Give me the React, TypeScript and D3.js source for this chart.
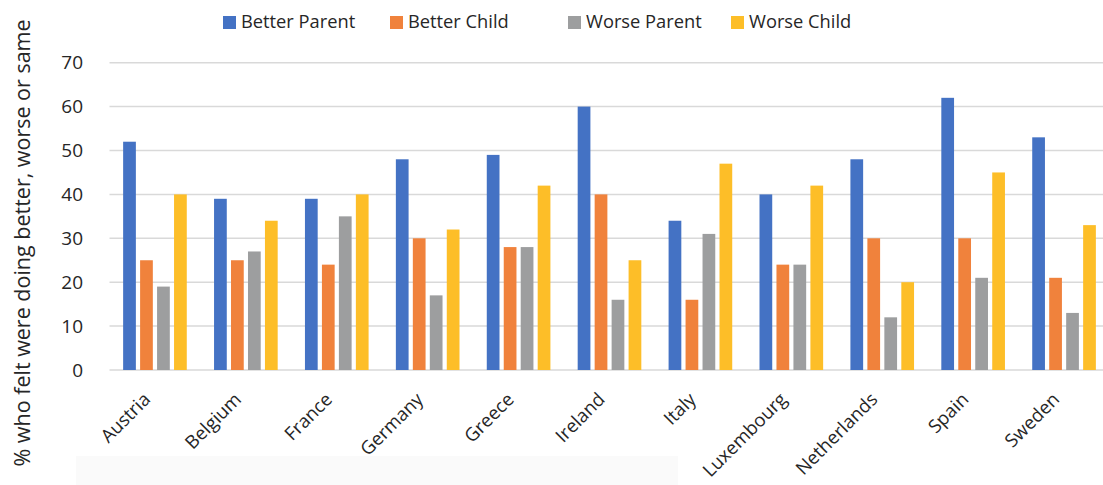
import React from "react";
import * as d3 from "d3";

const categories = ["Austria", "Belgium", "France", "Germany", "Greece", "Ireland", "Italy", "Luxembourg", "Netherlands", "Spain", "Sweden"];
const seriesNames = ["Better Parent", "Better Child", "Worse Parent", "Worse Child"];
const betterParent = [52, 39, 39, 48, 49, 60, 34, 40, 48, 62, 53];
const betterChild = [25, 25, 24, 30, 28, 40, 16, 24, 30, 30, 21];
const worseParent = [19, 27, 35, 17, 28, 16, 31, 24, 12, 21, 13];
const worseChild = [40, 34, 40, 32, 42, 25, 47, 42, 20, 45, 33];
const yTicks = [0, 10, 20, 30, 40, 50, 60, 70];
const colors = ["#4472C4", "#F0823C", "#9D9E9F", "#FDBE28"];
const yTitle = "% who felt were doing better, worse or same";

const seriesValues = [betterParent, betterChild, worseParent, worseChild];

export default function App() {
  const W = 1103, H = 485;
  const left = 109.5, right = 1109.5, top = 62.7, bottom = 370;
  const font = "'Open Sans', sans-serif";
  const x0 = d3.scaleBand<string>().domain(categories).range([left, right]).paddingInner(0.3).paddingOuter(0.15);
  const x1 = d3.scaleBand<string>().domain(seriesNames).range([0, x0.bandwidth()]).paddingInner(0.25);
  const y = d3.scaleLinear().domain([0, 70]).range([bottom, top]);
  const legendX = [223, 390, 568, 731];

  return (
    <svg width={W} height={H} style={{ position: "absolute", left: 0, top: 0, background: "#fff" }} fontFamily={font}>
      <rect x={76} y={456} width={602} height={29} fill="#fafafa" />
      {yTicks.map((t) => (
        <g key={t}>
          <line x1={left} x2={W} y1={y(t)} y2={y(t)} stroke="#d9d9d9" strokeWidth={1.5} />
          <text x={83} y={y(t)} dy="0.35em" textAnchor="end" fontSize={19} fill="#262626">{t}</text>
        </g>
      ))}
      {categories.map((c, i) => (
        <g key={c}>
          {seriesNames.map((s, j) => (
            <rect key={s} x={(x0(c) as number) + (x1(s) as number)} y={y(seriesValues[j][i])} width={x1.bandwidth()} height={bottom - y(seriesValues[j][i])} fill={colors[j]} />
          ))}
          <text transform={`translate(${(x0(c) as number) + x0.bandwidth() / 2 - 8},${396}) rotate(-45)`} textAnchor="end" dy="0.35em" fontSize={18.5} fill="#262626">{c}</text>
        </g>
      ))}
      {seriesNames.map((s, j) => (
        <g key={s}>
          <rect x={legendX[j]} y={16} width={13} height={13} fill={colors[j]} />
          <text x={legendX[j] + 18} y={22} dy="0.35em" fontSize={18.3} fill="#262626">{s}</text>
        </g>
      ))}
      <text transform={`translate(22,243) rotate(-90)`} textAnchor="middle" dy="0.35em" fontSize={21.5} fill="#262626">{yTitle}</text>
    </svg>
  );
}
